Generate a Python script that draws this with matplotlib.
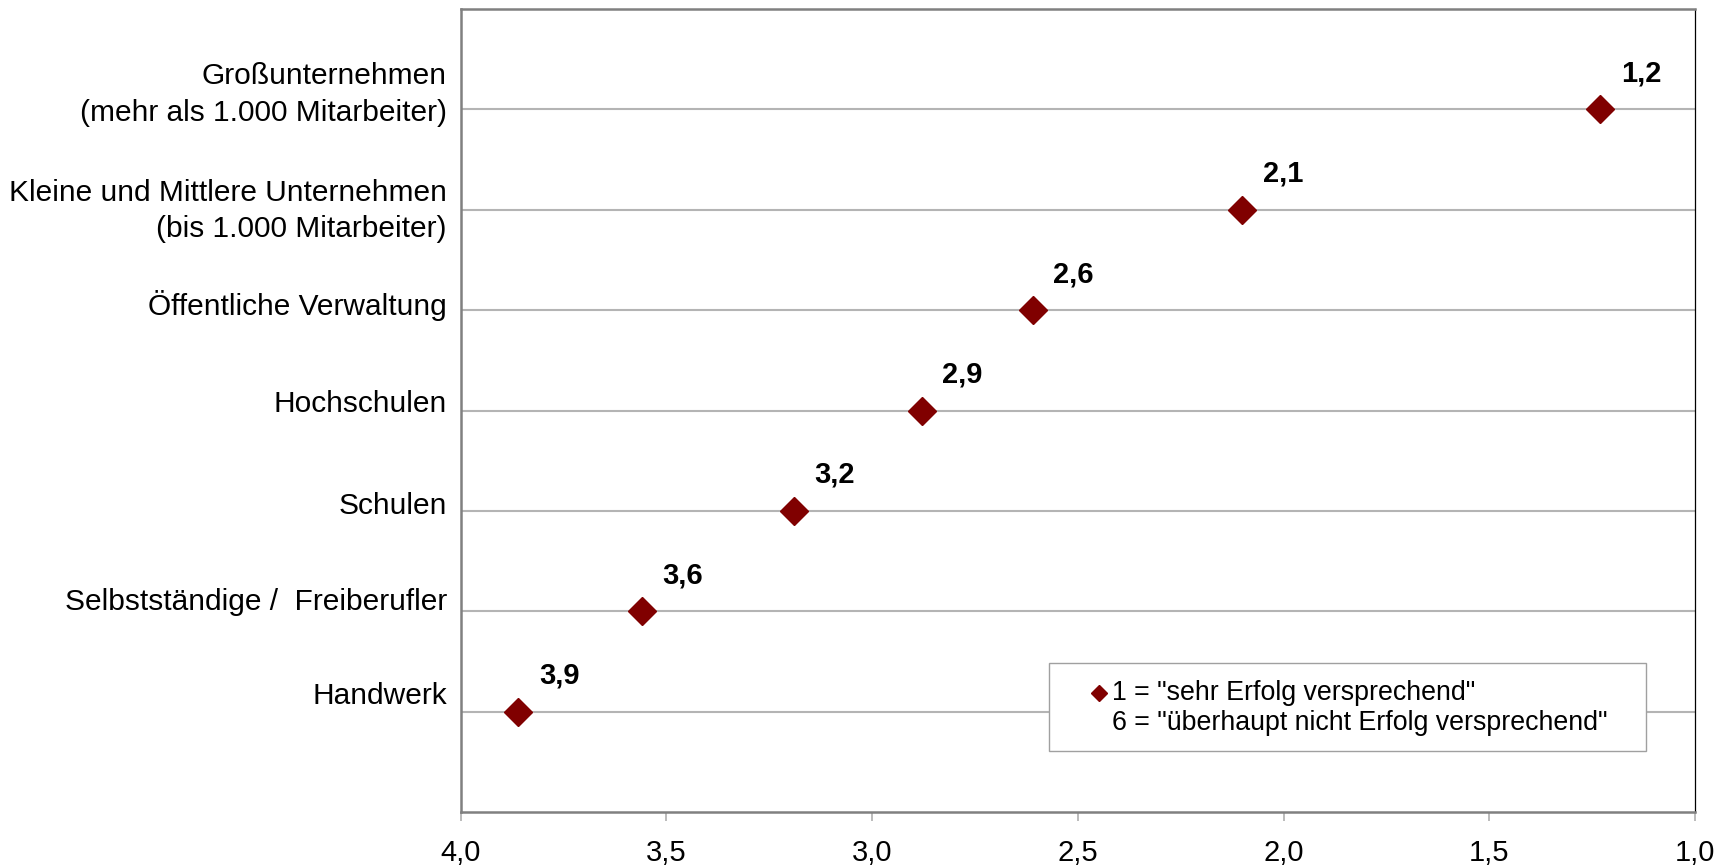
import matplotlib
matplotlib.use("Agg")
import matplotlib.pyplot as plt
from matplotlib.lines import Line2D
from matplotlib.patches import Rectangle
from matplotlib.ticker import FuncFormatter
import matplotlib.transforms as mtransforms

plt.rcParams['font.family'] = ['Liberation Sans', 'DejaVu Sans']

# ---- data ----
categories = [
    "Großunternehmen\n(mehr als 1.000 Mitarbeiter)",
    "Kleine und Mittlere Unternehmen\n(bis 1.000 Mitarbeiter)",
    "Öffentliche Verwaltung",
    "Hochschulen",
    "Schulen",
    "Selbstständige /  Freiberufler",
    "Handwerk",
]
scores = [1.23, 2.10, 2.61, 2.88, 3.19, 3.56, 3.86]
x_ticks = [4.0, 3.5, 3.0, 2.5, 2.0, 1.5, 1.0]
legend_lines = ['1 = "sehr Erfolg versprechend"',
                '6 = "überhaupt nicht Erfolg versprechend"']

# ---- style ----
DARKRED = "#800000"
W, H, DPI = 1721, 867, 100
label_nudge_px = [-22, -6, -8, -9, -8, -12, -19]   # Excel-like label placement

fig = plt.figure(figsize=(W / DPI, H / DPI), dpi=DPI)
ax = fig.add_axes([460.7 / W, (H - 812) / H, (1695 - 460.7) / W, (812 - 9) / H])

ypos = list(range(1, len(categories) + 1))
ax.plot(scores, ypos, linestyle="none", marker="D", markersize=14,
        color=DARKRED, zorder=3, clip_on=False)

for x, y in zip(scores, ypos):
    ax.annotate(f"{x:.1f}".replace(".", ","), (x, y),
                xytext=(41, 36), textcoords="offset pixels",
                ha="center", va="center", fontsize=21, fontweight="bold",
                color="black", zorder=4)

ax.set_xlim(4.0, 1.0)
ax.set_ylim(8, 0)
ax.set_xticks(x_ticks)
ax.xaxis.set_major_formatter(FuncFormatter(lambda v, p: f"{v:.1f}".replace(".", ",")))
ax.set_yticks(ypos)
ax.set_yticklabels(categories, linespacing=1.38)

ax.grid(axis="y", color="#b4b4b4", linewidth=1.5)
ax.grid(axis="x", visible=False)
ax.set_axisbelow(True)

ax.tick_params(axis="x", direction="out", length=6.5, width=1.1, color="#a8a8a8",
               labelsize=21, pad=13)
ax.tick_params(axis="y", length=0, labelsize=21.5, pad=10)

for side in ("left", "top", "bottom"):
    ax.spines[side].set_color("#808080")
    ax.spines[side].set_linewidth(1.8)
ax.spines["right"].set_color("black")
ax.spines["right"].set_linewidth(0.9)

for lbl, nudge in zip(ax.get_yticklabels(), label_nudge_px):
    lbl.set_transform(lbl.get_transform() +
                      mtransforms.Affine2D().translate(0, -nudge))

# ---- legend (manual box as in the original) ----
fig.add_artist(Rectangle((1049 / W, 1 - 751 / H), 597 / W, 88 / H,
                         transform=fig.transFigure, facecolor="white",
                         edgecolor="#a0a0a0", linewidth=1.0, zorder=5))
fig.add_artist(Line2D([1099 / W], [1 - 693 / H], marker="D", markersize=8.5,
                      color=DARKRED, linestyle="none",
                      transform=fig.transFigure, zorder=6))
fig.text(1112 / W, 1 - 693 / H, legend_lines[0], fontsize=19.3,
         ha="left", va="center", zorder=6)
fig.text(1112 / W, 1 - 723 / H, legend_lines[1], fontsize=19.3,
         ha="left", va="center", zorder=6)

fig.savefig("out.png", dpi=DPI)
